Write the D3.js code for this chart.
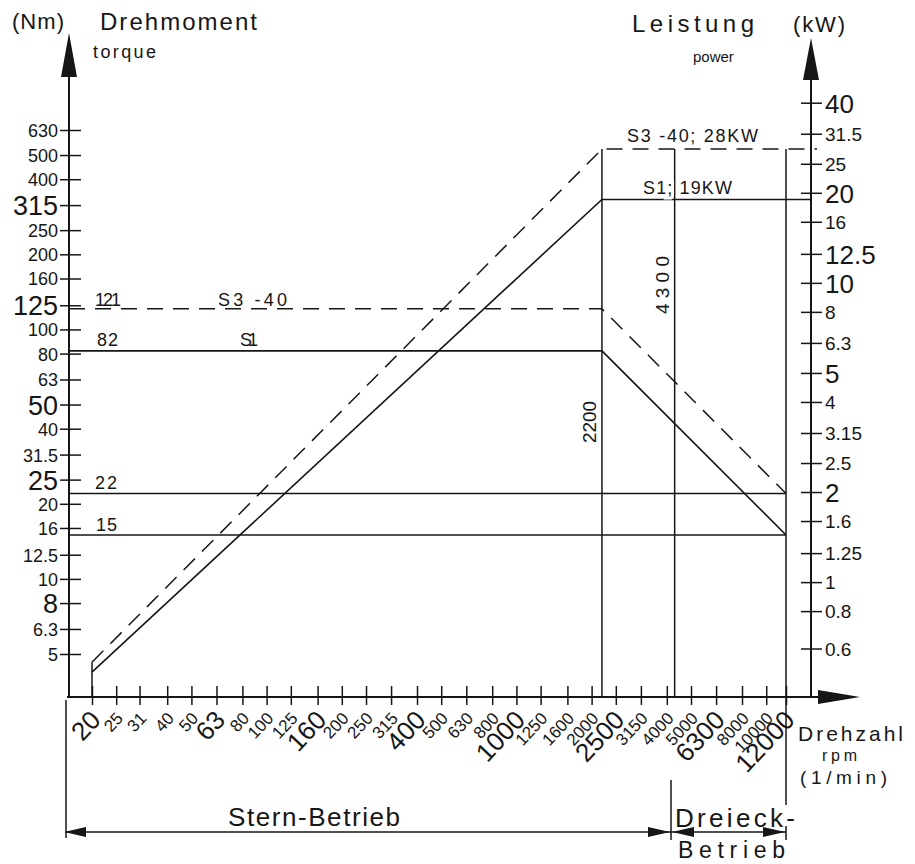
<!DOCTYPE html>
<html>
<head>
<meta charset="utf-8">
<script src="https://cdn.jsdelivr.net/npm/d3@7"></script>
<style>
  body { margin: 0; background: #fff; }
  text { font-family: "Liberation Sans", Arial, sans-serif; fill: #161616; }
</style>
</head>
<body>
<svg id="chart" width="915" height="864"></svg>
<script>
// ---- data ----
var speedTicks  = [20, 25, 31, 40, 50, 63, 80, 100, 125, 160, 200, 250, 315, 400, 500, 630, 800,
                   1000, 1250, 1600, 2000, 2500, 3150, 4000, 5000, 6300, 8000, 10000, 12000];
var torqueTicks = [5, 6.3, 8, 10, 12.5, 16, 20, 25, 31.5, 40, 50, 63, 80, 100, 125, 160, 200, 250, 315, 400, 500, 630];
var powerTicks  = [0.6, 0.8, 1, 1.25, 1.6, 2, 2.5, 3.15, 4, 5, 6.3, 8, 10, 12.5, 16, 20, 25, 31.5, 40];

var cornerSpeed = 2200;   // end of constant torque
var markSpeed   = 4300;
var maxSpeed    = 12000;

// torque (Nm) over speed (1/min)
var s1Torque = [{n: 2200, v: 82}, {n: 12000, v: 15}];
var s3Torque = [{n: 2200, v: 121}, {n: 12000, v: 22}];
// power (kW) over speed
var s1Power = [{n: 20, v: 0.5}, {n: 2200, v: 19}];
var s3Power = [{n: 20, v: 0.54}, {n: 2200, v: 28}];

// ---- layout ----
var svg = d3.select("#chart");
var leftX = 69, rightX = 811, axisY = 697;
var bigLeft = [315, 125, 50, 25, 8];
var bigRight = [40, 20, 12.5, 10, 5, 2];
var bigSpeed = [20, 63, 160, 400, 1000, 2500, 6300, 12000];

var x  = d3.scaleLog().domain([20, 12000]).range([92, 786]);
var yL = d3.scaleLog().domain([5, 630]).range([654, 130]);
var yR = d3.scaleLog().domain([0.6, 40]).range([648.5, 102.7]);

var nLeft = x.invert(leftX), nRight = x.invert(rightX);

var ink = "#161616";
var dashed = "16,10";

function txt(s, px, py, size, len, anchor) {
    var t = svg.append("text").attr("x", px).attr("y", py)
        .style("font-size", size + "px").text(s);
    if (len) t.attr("textLength", len).attr("lengthAdjust", "spacing");
    if (anchor) t.attr("text-anchor", anchor);
    return t;
}
function seg(x1, y1, x2, y2, w, dash) {
    var l = svg.append("line").attr("x1", x1).attr("y1", y1).attr("x2", x2).attr("y2", y2)
        .attr("stroke", ink).attr("stroke-width", w || 1.5);
    if (dash) l.attr("stroke-dasharray", dash);
    return l;
}
function tri(pts) {
    svg.append("path").attr("d", "M" + pts.join("L") + "Z").attr("fill", ink);
}

// ---- axes ----
// left: torque
var gL = svg.append("g").attr("transform", "translate(" + leftX + ",0)")
    .call(d3.axisLeft(yL).tickValues(torqueTicks).tickFormat(function(d) { return String(d); }).tickSizeOuter(0));
gL.select(".domain").remove();
gL.selectAll(".tick line").attr("x1", -9).attr("x2", 12).attr("stroke", ink).attr("stroke-width", 1.5);
gL.selectAll(".tick text").attr("x", -11).attr("dy", "0.36em")
    .style("font-size", function(d) { return bigLeft.indexOf(d) >= 0 ? "27px" : "18px"; })
    .attr("fill", ink);

// right: power
var gR = svg.append("g").attr("transform", "translate(" + rightX + ",0)")
    .call(d3.axisRight(yR).tickValues(powerTicks).tickFormat(function(d) { return String(d); }).tickSizeOuter(0));
gR.select(".domain").remove();
gR.selectAll(".tick line").attr("x1", -10).attr("x2", 11).attr("stroke", ink).attr("stroke-width", 1.5);
gR.selectAll(".tick text").attr("x", 14).attr("dy", "0.36em")
    .style("font-size", function(d) { return bigRight.indexOf(d) >= 0 ? "26px" : "19px"; })
    .attr("fill", ink);

// bottom: speed
var gX = svg.append("g").attr("transform", "translate(0," + axisY + ")")
    .call(d3.axisBottom(x).tickValues(speedTicks).tickFormat(function(d) { return String(d); }).tickSizeOuter(0));
gX.select(".domain").remove();
gX.selectAll(".tick line").attr("y1", -11).attr("y2", 8).attr("stroke", ink).attr("stroke-width", 1.5);
gX.selectAll(".tick text")
    .attr("text-anchor", "end").attr("dy", "0.35em")
    .attr("transform", "translate(3,18) rotate(-47)")
    .attr("y", 0).attr("x", 0)
    .style("font-size", function(d) { return bigSpeed.indexOf(d) >= 0 ? "26px" : "17px"; })
    .attr("fill", ink);

// axis lines + arrow heads
seg(leftX, axisY, leftX, 60, 2);
tri([[leftX, 33], [leftX - 8, 77], [leftX + 8, 77]]);
seg(rightX, axisY, rightX, 65, 2);
tri([[rightX, 38], [rightX - 8, 80], [rightX + 8, 80]]);
seg(leftX - 2, axisY, 830, axisY, 2);
tri([[860, axisY], [818, axisY - 7], [818, axisY + 7]]);

// ---- characteristic curves ----
var lineL = d3.line().x(function(d) { return x(d.n); }).y(function(d) { return yL(d.v); });
var lineR = d3.line().x(function(d) { return x(d.n); }).y(function(d) { return yR(d.v); });

// reference levels at max speed
[s1Torque[1].v, s3Torque[1].v].forEach(function(v) {
    svg.append("path").attr("d", lineL([{n: nLeft, v: v}, {n: maxSpeed, v: v}]))
        .attr("fill", "none").attr("stroke", ink).attr("stroke-width", 1.4);
});

// torque curves
svg.append("path").attr("d", lineL([{n: nLeft, v: s1Torque[0].v}].concat(s1Torque)))
    .attr("fill", "none").attr("stroke", ink).attr("stroke-width", 1.6);
svg.append("path").attr("d", lineL([{n: nLeft, v: s3Torque[0].v}].concat(s3Torque)))
    .attr("fill", "none").attr("stroke", ink).attr("stroke-width", 1.5).attr("stroke-dasharray", dashed);

// power curves
svg.append("path").attr("d", lineR(s1Power.concat([{n: nRight, v: s1Power[1].v}])))
    .attr("fill", "none").attr("stroke", ink).attr("stroke-width", 1.6);
svg.append("path").attr("d", lineR(s3Power.concat([{n: x.invert(rightX + 6), v: s3Power[1].v}])))
    .attr("fill", "none").attr("stroke", ink).attr("stroke-width", 1.5).attr("stroke-dasharray", dashed);
seg(x(20), yR(s3Power[0].v), x(20), axisY, 1.5);

// speed markers
seg(x(cornerSpeed), yR(s3Power[1].v), x(cornerSpeed), axisY, 1.5);
seg(x(markSpeed), yR(s3Power[1].v), x(markSpeed), axisY, 1.5);
seg(x(maxSpeed), yR(s3Power[1].v), x(maxSpeed), 805, 1.5);

// ---- annotations ----
txt("121", 95, yL(121) - 3, 18, 26);
txt("S3 -40", 218, yL(121) - 3, 18, 69);
txt("82", 97, yL(82) - 5, 18, 21);
txt("S1", 240, yL(82) - 5, 18, 18);
txt("22", 95, yL(22) - 4, 18, 22);
txt("15", 96, yL(15) - 4, 18, 21);

txt("S3 -40; 28KW", 627, yR(28) - 7, 18, 131);
txt("S1; 19KW", 643, yR(19) - 5, 18, 89)
    .attr("stroke", "#fff").attr("stroke-width", 6).style("paint-order", "stroke");

svg.append("text").attr("transform", "translate(" + (x(cornerSpeed) - 6) + ",422) rotate(-90)")
    .attr("text-anchor", "middle").style("font-size", "19px")
    .attr("textLength", 42).attr("lengthAdjust", "spacing").text("2200");
svg.append("text").attr("transform", "translate(" + (x(markSpeed) - 6) + ",285) rotate(-90)")
    .attr("text-anchor", "middle").style("font-size", "19px")
    .attr("textLength", 58).attr("lengthAdjust", "spacing").text("4300");

// titles
txt("(Nm)", 12, 29, 22, 52);
txt("Drehmoment", 100, 30, 24, 157);
txt("torque", 93, 58, 18, 63);
txt("Leistung", 632, 32, 24, 122);
txt("(kW)", 793, 32, 22, 52);
txt("power", 693, 62, 15);

txt("Drehzahl", 798, 741, 21, 105);
txt("rpm", 822, 761, 16, 35);
txt("(1/min)", 800, 784, 19, 87);

// operating ranges
seg(66, 700, 66, 838, 1.5);
seg(671, 780, 671, 840, 1.5);
seg(x(maxSpeed), 826, x(maxSpeed), 840, 1.5);
seg(66, 832, 786, 832, 1.5);
tri([[64, 832], [86, 827], [86, 837]]);
tri([[670, 832], [648, 827], [648, 837]]);
tri([[672, 832], [694, 827], [694, 837]]);
tri([[x(maxSpeed) - 1, 832], [x(maxSpeed) - 23, 827], [x(maxSpeed) - 23, 837]]);

txt("Stern-Betrieb", 228, 826, 26, 172);
txt("Dreieck-", 675, 827, 26, 120);
txt("Betrieb", 678, 858, 23, 107);
</script>
</body>
</html>
